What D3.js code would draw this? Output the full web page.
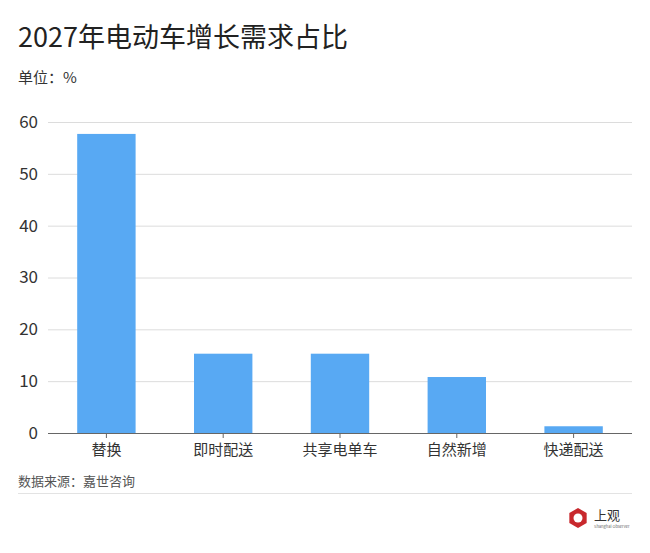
<!DOCTYPE html>
<html><head><meta charset="utf-8">
<script src="https://cdn.jsdelivr.net/npm/d3@7"></script>
<style>body{margin:0;background:#fff;font-family:"Noto Sans CJK SC","Noto Sans",sans-serif;}</style>
</head><body>
<svg id="c" width="650" height="553"></svg>
<script>
const categories = ["替换","即时配送","共享电单车","自然新增","快递配送"];
const values = [57.7, 15.3, 15.3, 10.8, 1.3];
const yTicks = [0,10,20,30,40,50,60];
const title = "2027年电动车增长需求占比";
const unit = "单位：%";
const source = "数据来源：嘉世咨询";

(function(){
const svg = d3.select("#c");
const font = '"Noto Sans CJK SC","Noto Sans",sans-serif';
const mLeft = 48, mRight = 632, mTop = 122, mBottom = 433;
const x = d3.scaleBand().domain(categories).range([mLeft,mRight]).paddingInner(0.5).paddingOuter(0.25);
const y = d3.scaleLinear().domain([0,60]).range([mBottom,mTop]);

svg.append("text").attr("x",18).attr("y",47).attr("font-size",27).attr("fill","#222").attr("font-family",font).text(title);
svg.append("text").attr("x",18).attr("y",83).attr("font-size",15).attr("fill","#333").attr("font-family",font).text(unit);

const g = svg.append("g").attr("transform",`translate(${mLeft},0)`);
g.call(d3.axisLeft(y).tickValues(yTicks).tickSize(-(mRight-mLeft)).tickPadding(10))
 .call(s=>s.select(".domain").remove())
 .call(s=>s.selectAll(".tick line").attr("stroke","#dcdcdc").attr("stroke-width",1))
 .call(s=>s.selectAll(".tick text").attr("font-size",17).attr("fill","#333").attr("font-family",font));
g.selectAll(".tick").filter(d=>d===0).select("line").remove();

svg.append("g").selectAll("rect").data(values).join("rect")
  .attr("x",(d,i)=>x(categories[i])).attr("width",x.bandwidth())
  .attr("y",d=>y(d)).attr("height",d=>y(0)-y(d)).attr("fill","#58a9f3");

const xa = svg.append("g").attr("transform",`translate(0,${mBottom})`);
xa.call(d3.axisBottom(x).tickSize(5).tickPadding(6))
  .call(s=>s.select(".domain").attr("stroke","#666").attr("d",`M${mLeft},0.5H${mRight}`))
  .call(s=>s.selectAll(".tick line").attr("stroke","#666"))
  .call(s=>s.selectAll(".tick text").attr("font-size",15).attr("fill","#333").attr("font-family",font));

svg.append("text").attr("x",18).attr("y",486).attr("font-size",13).attr("fill","#555").attr("font-family",font).text(source);
svg.append("line").attr("x1",18).attr("x2",632).attr("y1",493.5).attr("y2",493.5).attr("stroke","#e3e3e3");

const lg = svg.append("g").attr("transform","translate(578,518)");
const hex = d3.range(6).map(i=>{const a=Math.PI/3*i+Math.PI/6;return [Math.cos(a)*10,Math.sin(a)*10];});
lg.append("path").attr("d","M"+hex.join("L")+"Z").attr("fill","#c8282d");
lg.append("circle").attr("r",4.5).attr("fill","#fff");
lg.append("text").attr("x",16).attr("y",2).attr("font-size",13).attr("fill","#333").attr("font-family",font).text("上观");
lg.append("text").attr("x",16).attr("y",10).attr("font-size",4).attr("fill","#666").attr("font-family",font).text("Shanghai Observer");
})();
</script>
</body></html>
